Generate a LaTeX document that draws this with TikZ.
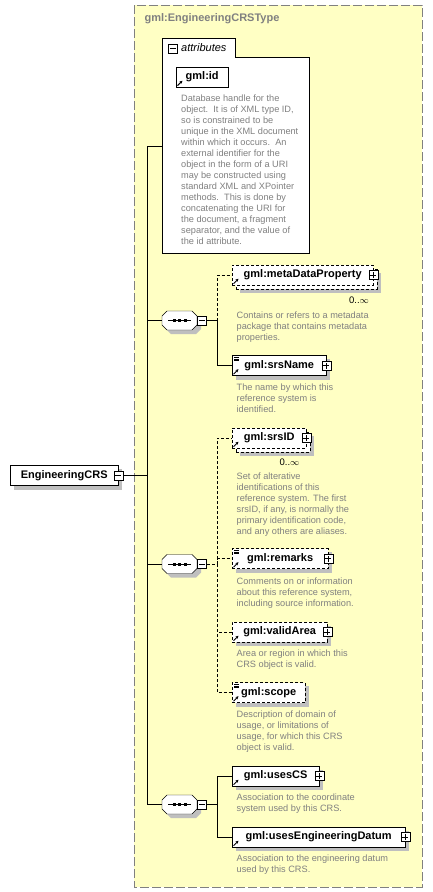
\documentclass[tikz,border=0pt]{standalone}
\usepackage{fontspec}
\setmainfont{Liberation Sans}
\usetikzlibrary{arrows.meta}
\pgfdeclarelayer{bg}
\pgfsetlayers{bg,main}
\definecolor{bgyel}{HTML}{FFFFC4}
\definecolor{txtgray}{HTML}{808080}
\tikzset{
    box/.style={draw, fill=white, anchor=west, minimum width=#1, minimum height=20pt,
    	inner sep=0pt, font=\fontsize{11}{13}\selectfont\bfseries},
    opt/.style={dash pattern=on 3pt off 2pt},
    shade/.style={fill=gray!50},
    desc/.style={anchor=north west, align=left, inner sep=0pt, text=txtgray,
    	font=\fontsize{9.2}{11}\selectfont},
    card/.style={inner sep=0pt, font=\fontsize{9.5}{11}\selectfont},
    tog/.style={draw, fill=white, minimum size=9pt, inner sep=0pt, line width=0.8pt},
    minus/.style={tog, path picture={
    	\draw ([xshift=-3pt]path picture bounding box.center) -- ([xshift=3pt]path picture bounding box.center);}},
    plus/.style={tog, path picture={
    	\draw ([xshift=-3pt]path picture bounding box.center) -- ([xshift=3pt]path picture bounding box.center);
    	\draw ([yshift=-3pt]path picture bounding box.center) -- ([yshift=3pt]path picture bounding box.center);}},
    seq/.style={minimum width=35pt, minimum height=19pt, inner sep=0pt},
    seqpic/.pic={
    	\fill[shade, shift={(4,4)}] (-17.5,-4.5) -- (-12.5,-9.5) -- (12.5,-9.5) -- (17.5,-4.5)
    		-- (17.5,4.5) -- (12.5,9.5) -- (-12.5,9.5) -- (-17.5,4.5) -- cycle;
    	\draw[fill=white] (-17.5,-4.5) -- (-12.5,-9.5) -- (12.5,-9.5) -- (17.5,-4.5)
    		-- (17.5,4.5) -- (12.5,9.5) -- (-12.5,9.5) -- (-17.5,4.5) -- cycle;
    	\draw (-11.5,0) -- (11.5,0);
    	\fill (-7,-1.5) rectangle (-4,1.5); \fill (-1.5,-1.5) rectangle (1.5,1.5); \fill (4,-1.5) rectangle (7,1.5);
    },
    ref/.style={-{Stealth[length=3pt, width=3pt]}, line width=1pt},
    simple/.style={line width=0.6pt}
}

\begin{document}
\begin{tikzpicture}[x=1pt, y=-1pt, line width=1pt]
	\useasboundingbox (0,0) rectangle (433,892);
	\begin{pgfonlayer}{bg}
		\draw[fill=bgyel, draw=txtgray, dash pattern=on 9pt off 3pt] (134,5) rectangle (422,887);
	\end{pgfonlayer}
	\node (t) [anchor=west, text=txtgray, font=\fontsize{11}{13}\selectfont\bfseries] at (141,19) {gml:EngineeringCRSType};

	% attributes
	\draw[fill=white] (162,253) |- (235,38) |- (309,57) -- (309,253) -- cycle;
	\node (am) [minus] at (173,48.5) {};
	\node (at) [anchor=west, inner sep=0pt, font=\fontsize{11}{13}\selectfont\itshape] at (181,48) {attributes};
	\node (id) [box=52] at (176,77) {gml:id};
	\node (did) [desc] at (181,94.6) {Database handle for the\\object.\ \ It is of XML type ID,\\so is constrained to be\\unique in the XML document\\within which it occurs.\ \ An\\external identifier for the\\object in the form of a URI\\may be constructed using\\standard XML and XPointer\\methods.\ \ This is done by\\concatenating the URI for\\the document, a fragment\\separator, and the value of\\the id attribute.};
	\coordinate (a) at (162,146);

	% root
	\node (0) [box=108] at (10,475.5) {EngineeringCRS};
	\node (m0) [minus] at (0.east) {};
	\coordinate (tr) at (147,475.5);

	% sequences
	\pic at (179.5,320.5) {seqpic};
	\node (s1) [seq] at (179.5,320.5) {};
	\node (m1) [minus] at (202,320.5) {};
	\coordinate (b1) at (217,320.5);
	\pic at (179.5,564) {seqpic};
	\node (s2) [seq] at (179.5,564) {};
	\node (m2) [minus] at (202,564) {};
	\coordinate (b2) at (217,564);
	\pic at (179.5,804.5) {seqpic};
	\node (s3) [seq] at (179.5,804.5) {};
	\node (m3) [minus] at (202,804.5) {};
	\coordinate (b3) at (217,804.5);

	% elements
	\node (1b) [box=141, opt] at (236,279) {};
	\node (1) [box=141, opt] at (232,275) {gml:metaDataProperty};
	\node (p1) [plus] at (1.east) {};
	\node (r1) [card] at (359,300) {0..$\infty$};
	\node (d1) [desc] at (236.5,311.9) {Contains or refers to a metadata\\package that contains metadata\\properties.};

	\node (2) [box=94] at (232,365.5) {gml:srsName};
	\node (p2) [plus] at (2.east) {};
	\node (d2) [desc] at (236.5,383.2) {The name by which this\\reference system is\\identified.};

	\node (3b) [box=74, opt] at (236,442) {};
	\node (3) [box=74, opt] at (232,438) {gml:srsID};
	\node (p3) [plus] at (3.east) {};
	\node (r3) [card] at (289.5,462) {0..$\infty$};
	\node (d3) [desc] at (236.5,472.6) {Set of alterative\\identifications of this\\reference system. The first\\srsID, if any, is normally the\\primary identification code,\\and any others are aliases.};

	\node (4) [box=96, opt] at (232,558.5) {gml:remarks};
	\node (p4) [plus] at (4.east) {};
	\node (d4) [desc] at (236.5,577.6) {Comments on or information\\about this reference system,\\including source information.};

	\node (5) [box=95, opt] at (232,632) {gml:validArea};
	\node (p5) [plus] at (5.east) {};
	\node (d5) [desc] at (236.5,649.2) {Area or region in which this\\CRS object is valid.};

	\node (6) [box=73, opt] at (232,692.5) {gml:scope};
	\node (d6) [desc] at (236.5,710.9) {Description of domain of\\usage, or limitations of\\usage, for which this CRS\\object is valid.};

	\node (7) [box=87] at (232,776) {gml:usesCS};
	\node (p7) [plus] at (7.east) {};
	\node (d7) [desc] at (236.5,793.6) {Association to the coordinate\\system used by this CRS.};

	\node (8) [box=173] at (232,837) {gml:usesEngineeringDatum};
	\node (p8) [plus] at (8.east) {};
	\node (d8) [desc] at (236.5,854.9) {Association to the engineering datum\\used by this CRS.};

	% shadows
	\begin{pgfonlayer}{bg}
		\fill[shade] ([shift={(4,4)}]id.south west) rectangle ([shift={(4,4)}]id.north east);
		\fill[shade] ([shift={(4,4)}]0.south west) rectangle ([shift={(4,4)}]0.north east);
		\fill[shade] ([shift={(4,4)}]1b.south west) rectangle ([shift={(4,4)}]1b.north east);
		\fill[shade] ([shift={(4,4)}]2.south west) rectangle ([shift={(4,4)}]2.north east);
		\fill[shade] ([shift={(4,4)}]3b.south west) rectangle ([shift={(4,4)}]3b.north east);
		\fill[shade] ([shift={(4,4)}]4.south west) rectangle ([shift={(4,4)}]4.north east);
		\fill[shade] ([shift={(4,4)}]5.south west) rectangle ([shift={(4,4)}]5.north east);
		\fill[shade] ([shift={(4,4)}]6.south west) rectangle ([shift={(4,4)}]6.north east);
		\fill[shade] ([shift={(4,4)}]7.south west) rectangle ([shift={(4,4)}]7.north east);
		\fill[shade] ([shift={(4,4)}]8.south west) rectangle ([shift={(4,4)}]8.north east);
	\end{pgfonlayer}

	% icons
	\draw[ref] ([shift={(1.5,-1.5)}]id.south west) -- ++(5,-5);
	\draw[ref] ([shift={(1.5,-1.5)}]1.south west) -- ++(5,-5); \draw[ref] ([shift={(1.5,-1.5)}]2.south west) -- ++(5,-5);
	\draw[ref] ([shift={(1.5,-1.5)}]3.south west) -- ++(5,-5); \draw[ref] ([shift={(1.5,-1.5)}]4.south west) -- ++(5,-5);
	\draw[ref] ([shift={(1.5,-1.5)}]5.south west) -- ++(5,-5); \draw[ref] ([shift={(1.5,-1.5)}]6.south west) -- ++(5,-5);
	\draw[ref] ([shift={(1.5,-1.5)}]7.south west) -- ++(5,-5); \draw[ref] ([shift={(1.5,-1.5)}]8.south west) -- ++(5,-5);
	\draw[simple] ([shift={(2,2)}]2.north west) -- ++(5,0) ([shift={(2,3.5)}]2.north west) -- ++(5,0) ([shift={(2,5)}]2.north west) -- ++(5,0);
	\draw[simple] ([shift={(2,2)}]4.north west) -- ++(5,0) ([shift={(2,3.5)}]4.north west) -- ++(5,0) ([shift={(2,5)}]4.north west) -- ++(5,0);
	\draw[simple] ([shift={(2,2)}]6.north west) -- ++(5,0) ([shift={(2,3.5)}]6.north west) -- ++(5,0) ([shift={(2,5)}]6.north west) -- ++(5,0);

	% connectors
	\draw (m0) -- (tr); \draw (tr) |- (a); \draw (tr) |- (s1);
	\draw (tr) |- (s2); \draw (tr) |- (s3);
	\draw (m1) -- (b1); \draw[opt] (b1) |- (1); \draw (b1) |- (2);
	\draw[opt] (m2) -- (b2); \draw[opt] (b2) |- (3); \draw[opt] (b2) |- (4);
	\draw[opt] (b2) |- (5); \draw[opt] (b2) |- (6);
	\draw (m3) -- (b3); \draw (b3) |- (7); \draw (b3) |- (8);
\end{tikzpicture}
\end{document}
